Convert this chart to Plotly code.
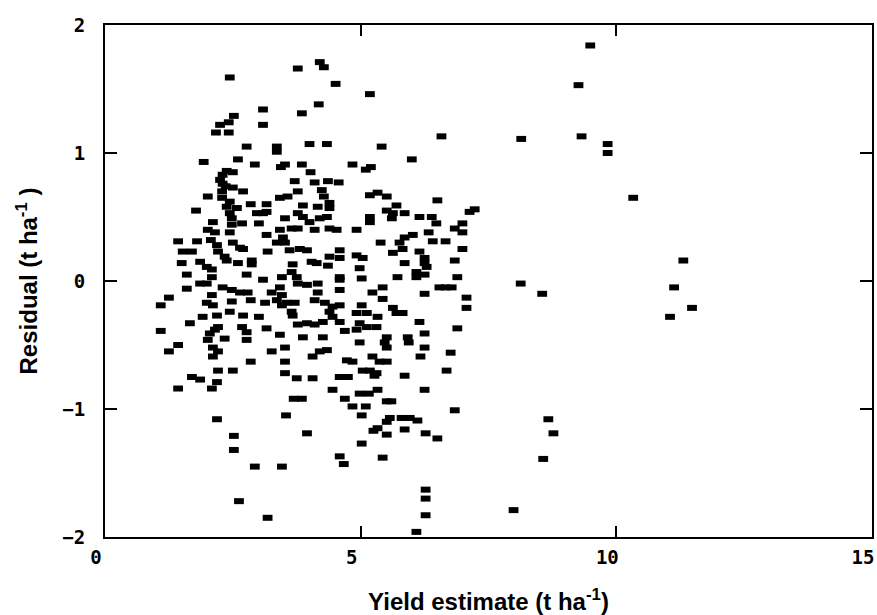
import plotly.graph_objects as go

# (yield estimate t/ha, residual t/ha)
points_upper = [
    (4.20, 1.71), (4.28, 1.67), (3.77, 1.66), (2.44, 1.59), (4.51, 1.54), (5.18, 1.46),
    (4.18, 1.38), (3.09, 1.34), (3.85, 1.31), (2.52, 1.29), (2.42, 1.24), (2.25, 1.22),
    (3.09, 1.22), (2.17, 1.16), (2.42, 1.16), (6.58, 1.13), (8.14, 1.11), (2.77, 1.05),
    (3.36, 1.05), (3.36, 1.01), (4.00, 1.07), (4.34, 1.07), (5.41, 1.05), (1.93, 0.93),
    (2.60, 0.95), (2.93, 0.91), (3.52, 0.91), (3.44, 0.89), (3.85, 0.91), (6.00, 0.95),
    (4.84, 0.91), (5.10, 0.87), (5.20, 0.89), (4.02, 0.85), (2.38, 0.86), (2.50, 0.85),
    (2.25, 0.79), (3.71, 0.78), (4.10, 0.77), (4.36, 0.78), (4.57, 0.77), (2.50, 0.73),
    (2.70, 0.70), (2.29, 0.70), (3.77, 0.70), (4.24, 0.71), (4.28, 0.66), (5.18, 0.67),
    (5.33, 0.69), (5.51, 0.66), (3.42, 0.65), (3.57, 0.66), (2.01, 0.66), (6.50, 0.63),
    (2.29, 0.65), (2.36, 0.74), (2.44, 0.62), (2.30, 0.83), (2.30, 0.76),
]

points_mid_high = [
    (2.38, 0.58), (2.44, 0.53), (2.58, 0.57), (2.85, 0.60), (3.16, 0.60), (3.16, 0.54),
    (2.97, 0.53), (3.09, 0.53), (1.78, 0.55), (3.87, 0.59), (4.16, 0.58), (4.39, 0.57),
    (4.39, 0.61), (3.77, 0.53), (3.87, 0.50), (5.70, 0.59), (5.51, 0.55), (5.63, 0.53),
    (5.61, 0.49), (5.18, 0.50), (5.18, 0.46), (5.86, 0.53), (6.15, 0.50), (6.39, 0.50),
    (6.48, 0.45), (7.13, 0.54), (7.23, 0.56), (6.99, 0.45), (6.84, 0.41), (6.99, 0.38),
    (2.48, 0.49), (2.68, 0.45), (2.48, 0.44), (3.01, 0.45), (3.52, 0.49), (4.00, 0.46),
    (4.20, 0.49), (4.34, 0.50), (2.11, 0.46), (2.01, 0.40), (2.15, 0.38), (2.44, 0.38),
    (3.16, 0.36), (3.42, 0.40), (3.65, 0.41), (3.77, 0.41), (3.48, 0.34), (3.36, 0.30),
    (3.52, 0.30), (4.10, 0.40), (4.39, 0.41), (4.53, 0.40), (4.92, 0.40), (6.02, 0.36),
    (5.86, 0.34), (5.76, 0.30), (6.33, 0.38), (6.41, 0.31), (6.66, 0.31), (5.39, 0.30),
    (1.43, 0.31), (1.80, 0.31), (2.07, 0.32), (2.19, 0.28), (2.21, 0.23), (2.34, 0.19),
    (2.50, 0.30), (2.64, 0.26), (2.70, 0.25), (2.38, 0.16), (2.87, 0.16), (2.87, 0.13),
    (2.60, 0.14), (3.18, 0.23), (3.61, 0.24), (3.81, 0.25), (3.95, 0.24), (4.39, 0.19),
    (4.59, 0.24), (4.59, 0.18), (4.92, 0.20), (5.04, 0.18), (5.63, 0.22), (5.82, 0.25),
    (6.15, 0.23), (6.25, 0.18), (6.25, 0.14), (6.29, 0.11), (6.99, 0.25), (6.84, 0.16),
    (5.86, 0.14), (1.52, 0.23), (1.70, 0.23), (1.50, 0.14), (1.86, 0.15), (1.99, 0.11),
    (2.09, 0.09), (3.67, 0.13), (3.65, 0.07), (3.75, 0.03), (4.04, 0.15), (4.14, 0.14),
    (4.36, 0.12), (4.98, 0.10), (1.60, 0.05), (2.09, 0.03), (2.77, 0.05), (3.09, 0.01),
    (3.46, 0.03), (4.59, 0.03), (4.59, 0.01), (5.02, 0.02), (5.72, 0.03), (6.09, 0.07),
    (6.09, 0.03), (6.25, 0.05), (6.89, 0.03),
]

points_mid_low = [
    (1.86, -0.02), (1.99, -0.02), (1.60, -0.06), (2.30, -0.05), (2.48, -0.07), (2.64, -0.09),
    (2.79, -0.09), (3.26, -0.09), (3.42, -0.05), (3.46, -0.11), (3.77, -0.02), (3.95, -0.03),
    (4.16, -0.02), (4.16, -0.09), (4.59, -0.07), (5.23, -0.09), (5.43, -0.05), (6.25, -0.10),
    (6.54, -0.05), (6.66, -0.05), (6.78, -0.05), (7.07, -0.13), (8.13, -0.02), (8.55, -0.10),
    (1.25, -0.13), (1.09, -0.19), (2.09, -0.11), (1.99, -0.17), (2.11, -0.19), (2.48, -0.16),
    (2.85, -0.15), (3.13, -0.17), (3.36, -0.15), (3.46, -0.19), (3.55, -0.17), (3.71, -0.17),
    (4.10, -0.15), (4.30, -0.17), (4.45, -0.20), (4.59, -0.19), (5.02, -0.19), (5.43, -0.14),
    (5.63, -0.21), (5.70, -0.25), (5.82, -0.25), (7.07, -0.21), (1.91, -0.28), (2.19, -0.27),
    (2.44, -0.24), (2.70, -0.27), (3.01, -0.28), (3.65, -0.24), (3.67, -0.27), (4.39, -0.24),
    (4.45, -0.28), (4.92, -0.25), (5.12, -0.25), (5.33, -0.28), (6.15, -0.32), (6.25, -0.41),
    (6.89, -0.37), (1.66, -0.33), (2.21, -0.36), (2.15, -0.38), (2.05, -0.41), (2.68, -0.36),
    (2.77, -0.40), (3.16, -0.37), (3.42, -0.42), (3.77, -0.34), (3.95, -0.33), (4.10, -0.34),
    (4.26, -0.32), (4.59, -0.32), (4.98, -0.33), (5.12, -0.36), (5.31, -0.36), (4.69, -0.39),
    (4.92, -0.38), (1.09, -0.39), (2.01, -0.46), (2.34, -0.45), (2.77, -0.46), (3.87, -0.44),
    (4.26, -0.44), (4.98, -0.48), (5.47, -0.48), (5.51, -0.52), (5.51, -0.44), (5.92, -0.44),
    (5.94, -0.48), (6.25, -0.52), (6.76, -0.56), (1.43, -0.50), (1.25, -0.55), (2.11, -0.52),
    (2.21, -0.55), (3.26, -0.55), (3.52, -0.52), (4.06, -0.59), (4.20, -0.55), (4.34, -0.54),
    (4.73, -0.62), (4.84, -0.63), (5.23, -0.59), (5.37, -0.63), (5.51, -0.63), (6.17, -0.59),
    (2.11, -0.59), (2.85, -0.63), (3.52, -0.63), (2.21, -0.70), (2.50, -0.70), (3.52, -0.72),
    (1.70, -0.75), (5.18, -0.70), (5.31, -0.72), (5.04, -0.70), (5.27, -0.74), (3.75, -0.76),
    (4.06, -0.76), (4.59, -0.75), (4.75, -0.75), (5.86, -0.74), (6.68, -0.70),
]

points_lower = [
    (1.43, -0.84), (1.86, -0.77), (2.09, -0.84), (2.19, -0.79), (3.69, -0.92), (3.85, -0.92),
    (4.45, -0.85), (4.69, -0.92), (4.84, -0.98), (5.10, -0.98), (5.02, -1.05), (5.02, -1.27),
    (4.59, -1.37), (4.67, -1.43), (5.43, -1.38), (5.51, -1.20), (5.33, -1.15), (5.25, -1.17),
    (5.51, -1.10), (5.57, -1.07), (5.80, -1.07), (5.96, -1.07), (6.11, -1.09), (5.51, -0.94),
    (5.60, -0.94), (5.33, -0.85), (5.16, -0.88), (4.98, -0.88), (6.25, -0.85), (6.84, -1.01),
    (5.86, -1.16), (6.27, -1.19), (6.50, -1.23), (2.62, -1.72), (3.18, -1.85), (2.93, -1.45),
    (3.46, -1.45), (2.52, -1.32), (2.52, -1.21), (2.19, -1.08), (3.54, -1.05), (3.95, -1.19),
    (8.67, -1.08), (8.77, -1.19), (8.57, -1.39), (6.27, -1.63), (6.27, -1.70), (6.27, -1.83),
    (6.09, -1.96), (7.99, -1.79),
]

points_high_yield = [
    (9.49, 1.84), (9.26, 1.53), (9.32, 1.13), (9.83, 1.07), (9.83, 1.00), (10.33, 0.65),
    (11.31, 0.16), (11.13, -0.05), (11.48, -0.21), (11.05, -0.28),
]

x_ticks = [0, 5, 10, 15]
y_ticks = [-2, -1, 0, 1, 2]
x_tick_labels = ["0", "5", "10", "15"]
y_tick_labels = ["\u22122", "\u22121", "0", "1", "2"]

all_points = points_upper + points_mid_high + points_mid_low + points_lower + points_high_yield
yield_estimate = [p[0] for p in all_points]
residual = [p[1] for p in all_points]

fig = go.Figure()
fig.add_trace(go.Scatter(
    x=yield_estimate, y=residual, mode="markers",
    marker=dict(symbol="line-ew", size=7, color="black",
                line=dict(width=6, color="black")),
    hoverinfo="x+y", showlegend=False,
))

tick_font = dict(family="DejaVu Sans Mono", size=19, color="black", weight="bold")
title_font = dict(family="Liberation Sans, Arial, sans-serif", size=24, color="black", weight="bold")

fig.update_layout(
    width=877, height=615,
    margin=dict(l=105, r=5, t=25, b=78),
    paper_bgcolor="white", plot_bgcolor="white",
    xaxis=dict(
        range=[0, 15], tickvals=x_ticks, ticktext=x_tick_labels,
        showgrid=False, zeroline=False, showline=True, linecolor="black", linewidth=2,
        mirror="ticks", ticks="inside", ticklen=11, tickwidth=2, tickcolor="black",
        tickfont=tick_font, ticklabelshift=-9, ticklabelstandoff=2,
        ticklabeloverflow="allow",
        title=dict(text="Yield estimate (t ha<sup>-1</sup>)", font=title_font, standoff=26),
        automargin=False,
    ),
    yaxis=dict(
        range=[-2, 2], tickvals=y_ticks, ticktext=y_tick_labels,
        showgrid=False, zeroline=False, showline=True, linecolor="black", linewidth=2,
        mirror="ticks", ticks="inside", ticklen=12, tickwidth=2, tickcolor="black",
        tickfont=tick_font, ticklabelstandoff=14,
        title=dict(text="Residual (t ha<sup>-1</sup> )", font=title_font, standoff=18),
        automargin=False,
    ),
)

# remove the default page margin so the 877x615 figure fills the window exactly
fig.write_html(
    "out.html",
    config={"displayModeBar": False},
    post_script="document.body.style.margin='0px';document.body.style.overflow='hidden';",
)
